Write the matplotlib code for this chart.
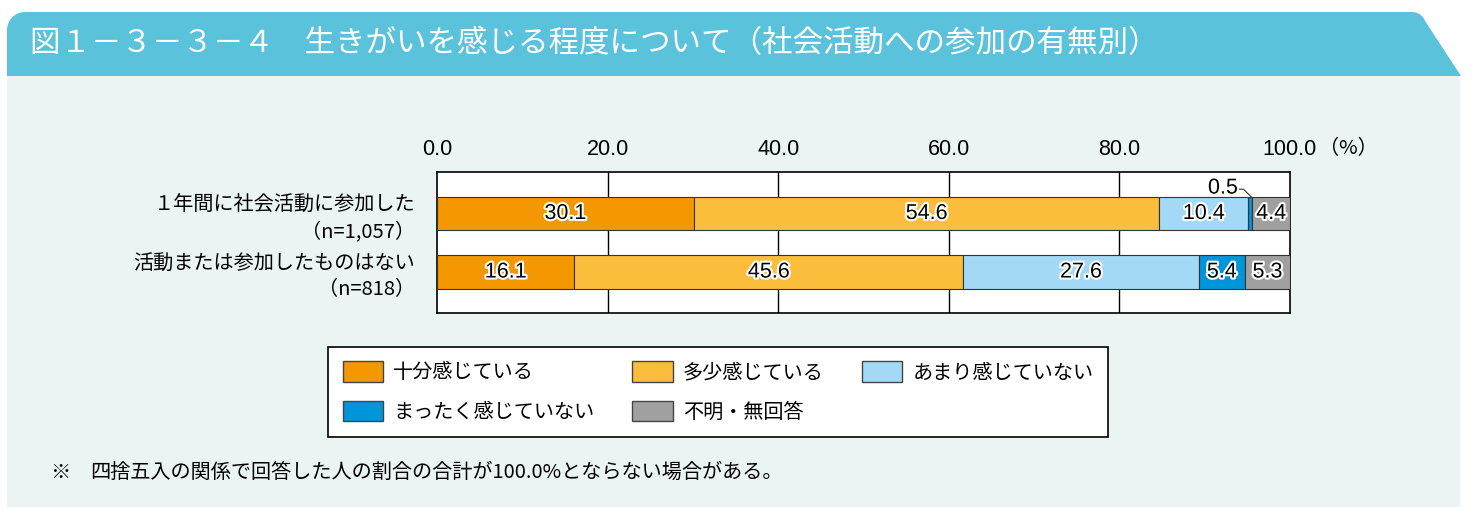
import numpy as np
import matplotlib
matplotlib.use("Agg")
import matplotlib.pyplot as plt
import matplotlib.patheffects as pe
from matplotlib.patches import Rectangle, Polygon, Patch

plt.rcParams['font.family'] = ['Noto Sans CJK JP', 'DejaVu Sans']

# データ
TITULO = "図１－３－３－４　生きがいを感じる程度について（社会活動への参加の有無別）"
GRUPOS = ["１年間に社会活動に参加した\n（n=1,057）", "活動または参加したものはない\n（n=818）"]
CATEGORIAS = ["十分感じている", "多少感じている", "あまり感じていない", "まったく感じていない", "不明・無回答"]
VALORES_PARTICIPOU = [30.1, 54.6, 10.4, 0.5, 4.4]
VALORES_NAO_PARTICIPOU = [16.1, 45.6, 27.6, 5.4, 5.3]
CORES = ["#F39800", "#FABE3C", "#A3D9F6", "#0095D9", "#A0A0A0"]
TICKS = [0, 20, 40, 60, 80, 100]
NOTA = "四捨五入の関係で回答した人の割合の合計が100.0%とならない場合がある。"

NUM = ["Liberation Sans", "DejaVu Sans"]

W, H = 1472, 507
fig = plt.figure(figsize=(W / 100, H / 100), dpi=100)
fig.patch.set_facecolor("white")

# fundo e faixa do título (coordenadas em pixels)
bg = fig.add_axes([0, 0, 1, 1], zorder=-1)
bg.set_xlim(0, W)
bg.set_ylim(H, 0)
bg.axis("off")
bg.add_patch(Rectangle((7, 76), 1453, 431, facecolor="#EAF4F3", edgecolor="none"))

r = 18
ang = np.linspace(np.pi, 1.5 * np.pi, 20)
canto = [(7 + r + r * np.cos(a), 12 + r + r * np.sin(a)) for a in ang]
ang2 = np.linspace(1.5 * np.pi, 1.5 * np.pi + 1.2, 12)
canto2 = [(1412 + 14 * np.cos(a), 12 + 14 + 14 * np.sin(a)) for a in ang2]
faixa = [(7, 76)] + canto + canto2 + [(1461, 76)]
bg.add_patch(Polygon(faixa, closed=True, facecolor="#5BC2DB", edgecolor="none"))
bg.text(30, 44, TITULO, color="white", fontsize=22, va="center", ha="left")

bg.text(50, 472, "※", fontsize=14.5, va="center", ha="left")
bg.text(90, 472, NOTA, fontsize=14.5, va="center", ha="left")

# gráfico principal
ax = fig.add_axes([437 / W, 1 - 313 / H, 853 / W, 141 / H])
ax.set_facecolor("white")
dados = [VALORES_PARTICIPOU, VALORES_NAO_PARTICIPOU]
ys = np.arange(len(GRUPOS))
altura = 0.57

contorno = [pe.withStroke(linewidth=3, foreground="white")]
for i, valores in enumerate(dados):
    esquerda = 0
    for j, v in enumerate(valores):
        ax.barh(ys[i], v, left=esquerda, height=altura, color=CORES[j],
                edgecolor="#333333", linewidth=0.8, zorder=3)
        meio = esquerda + v / 2
        if v >= 1:
            ax.text(meio, ys[i], f"{v:.1f}", ha="center", va="center", family=NUM,
                    fontsize=15.5, zorder=5, path_effects=contorno)
        else:
            # rótulo pequeno com linha de chamada
            topo = ys[i] - altura / 2
            ax.plot([meio - 1.4, meio - 0.8, meio + 0.1], [topo - 0.13, topo - 0.13, topo],
                    color="#333333", lw=0.8, zorder=5)
            ax.text(meio - 1.45, topo - 0.15, f"{v:.1f}", ha="right", va="center",
                    family=NUM, fontsize=15.5, zorder=5, path_effects=contorno)
        esquerda += v

ax.set_xlim(0, 100)
ax.set_ylim(1.70, -0.709)
for t in TICKS[1:-1]:
    ax.axvline(t, color="black", lw=1, zorder=1)

ax.xaxis.tick_top()
ax.set_xticks(TICKS)
ax.set_xticklabels([f"{t:.1f}" for t in TICKS], fontsize=15.5, family=NUM)
ax.tick_params(axis="x", length=0, pad=9)
ax.annotate("（%）", xy=(100, 1), xycoords=ax.get_xaxis_transform(),
            xytext=(21, 9), textcoords="offset points", fontsize=14.5,
            ha="left", va="bottom")
ax.set_yticks(ys)
ax.set_yticklabels(GRUPOS, fontsize=14.5, linespacing=1.3)
ax.tick_params(axis="y", length=0, pad=16)
for s in ax.spines.values():
    s.set_linewidth(1.2)
    s.set_color("black")

# legenda (ordem por linhas)
handles = [Patch(facecolor=c, edgecolor="#444444", linewidth=1) for c in CORES]
ordem = [0, 3, 1, 4, 2]
leg = fig.legend([handles[k] for k in ordem], [CATEGORIAS[k] for k in ordem],
                 ncol=3, loc="center", bbox_to_anchor=(718 / W, 1 - 392 / H),
                 fontsize=14.5, frameon=True, fancybox=False, edgecolor="black",
                 facecolor="white", framealpha=1,
                 handlelength=2.0, handleheight=1.2, labelspacing=0.85,
                 columnspacing=1.9, handletextpad=0.5, borderpad=0.7)
leg.get_frame().set_linewidth(1.2)

fig.savefig("out.png", dpi=100)
